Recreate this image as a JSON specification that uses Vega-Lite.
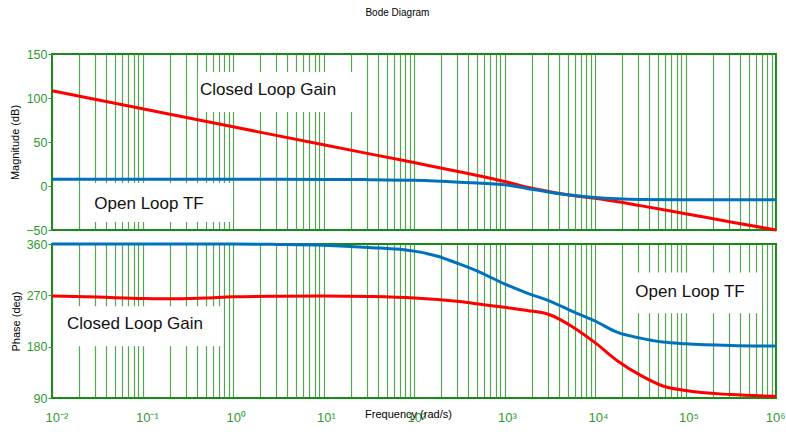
{
  "$schema": "https://vega.github.io/schema/vega-lite/v6.json",
  "padding": {"left": 8, "top": 8, "right": 0, "bottom": 0},
  "background": "white",
  "title": {
    "text": "Bode Diagram",
    "font": "Liberation Sans",
    "fontSize": 10,
    "fontWeight": "normal",
    "color": "#000000",
    "anchor": "middle",
    "offset": 29
  },
  "spacing": -1,
  "config": {
    "view": {"stroke": "#158a15", "strokeWidth": 2},
    "axis": {
      "labelColor": "#2f9a2f",
      "labelFont": "Liberation Sans",
      "labelFontSize": 12.5,
      "tickColor": "#2f9a2f",
      "titleColor": "#000000",
      "titleFont": "Liberation Sans",
      "titleFontSize": 11,
      "titleFontWeight": "normal",
      "domain": false
    }
  },
  "datasets": {
    "mag": [
      {"f": 0.01, "v": 108.3, "series": "Closed Loop Gain"},
      {"f": 0.1, "v": 87.8, "series": "Closed Loop Gain"},
      {"f": 1, "v": 67.3, "series": "Closed Loop Gain"},
      {"f": 10, "v": 46.8, "series": "Closed Loop Gain"},
      {"f": 100, "v": 26.6, "series": "Closed Loop Gain"},
      {"f": 316.23, "v": 16.3, "series": "Closed Loop Gain"},
      {"f": 1000, "v": 5.2, "series": "Closed Loop Gain"},
      {"f": 1778.3, "v": -1.5, "series": "Closed Loop Gain"},
      {"f": 3162.3, "v": -6.5, "series": "Closed Loop Gain"},
      {"f": 5623.4, "v": -10.8, "series": "Closed Loop Gain"},
      {"f": 10000, "v": -14, "series": "Closed Loop Gain"},
      {"f": 31623, "v": -22.3, "series": "Closed Loop Gain"},
      {"f": 100000, "v": -31.5, "series": "Closed Loop Gain"},
      {"f": 316228, "v": -40.8, "series": "Closed Loop Gain"},
      {"f": 1000000, "v": -50, "series": "Closed Loop Gain"},
      {"f": 0.01, "v": 7.6, "series": "Open Loop TF"},
      {"f": 1, "v": 7.6, "series": "Open Loop TF"},
      {"f": 10, "v": 7.5, "series": "Open Loop TF"},
      {"f": 31.623, "v": 7.2, "series": "Open Loop TF"},
      {"f": 100, "v": 6.4, "series": "Open Loop TF"},
      {"f": 316.23, "v": 4.4, "series": "Open Loop TF"},
      {"f": 1000, "v": 1.5, "series": "Open Loop TF"},
      {"f": 1778.3, "v": -2.8, "series": "Open Loop TF"},
      {"f": 3162.3, "v": -7, "series": "Open Loop TF"},
      {"f": 5623.4, "v": -10.5, "series": "Open Loop TF"},
      {"f": 10000, "v": -13, "series": "Open Loop TF"},
      {"f": 17783, "v": -14.5, "series": "Open Loop TF"},
      {"f": 31623, "v": -15.2, "series": "Open Loop TF"},
      {"f": 100000, "v": -15.5, "series": "Open Loop TF"},
      {"f": 1000000, "v": -15.5, "series": "Open Loop TF"}
    ],
    "phase": [
      {"f": 0.01, "v": 269, "series": "Closed Loop Gain"},
      {"f": 0.031623, "v": 267, "series": "Closed Loop Gain"},
      {"f": 0.1, "v": 264.5, "series": "Closed Loop Gain"},
      {"f": 0.19953, "v": 263.8, "series": "Closed Loop Gain"},
      {"f": 0.50119, "v": 265.5, "series": "Closed Loop Gain"},
      {"f": 1, "v": 267.5, "series": "Closed Loop Gain"},
      {"f": 3.1623, "v": 268.5, "series": "Closed Loop Gain"},
      {"f": 10, "v": 268.8, "series": "Closed Loop Gain"},
      {"f": 31.623, "v": 268, "series": "Closed Loop Gain"},
      {"f": 100, "v": 265.5, "series": "Closed Loop Gain"},
      {"f": 316.23, "v": 259, "series": "Closed Loop Gain"},
      {"f": 562.34, "v": 254, "series": "Closed Loop Gain"},
      {"f": 1000, "v": 249, "series": "Closed Loop Gain"},
      {"f": 1778.3, "v": 243.5, "series": "Closed Loop Gain"},
      {"f": 3162.3, "v": 236, "series": "Closed Loop Gain"},
      {"f": 5623.4, "v": 215, "series": "Closed Loop Gain"},
      {"f": 10000, "v": 187, "series": "Closed Loop Gain"},
      {"f": 17783, "v": 155, "series": "Closed Loop Gain"},
      {"f": 31623, "v": 130, "series": "Closed Loop Gain"},
      {"f": 56234, "v": 111, "series": "Closed Loop Gain"},
      {"f": 100000, "v": 103, "series": "Closed Loop Gain"},
      {"f": 316228, "v": 96, "series": "Closed Loop Gain"},
      {"f": 1000000, "v": 93, "series": "Closed Loop Gain"},
      {"f": 0.01, "v": 360, "series": "Open Loop TF"},
      {"f": 1, "v": 359.8, "series": "Open Loop TF"},
      {"f": 3.1623, "v": 359.3, "series": "Open Loop TF"},
      {"f": 10, "v": 358, "series": "Open Loop TF"},
      {"f": 31.623, "v": 354, "series": "Open Loop TF"},
      {"f": 100, "v": 347.5, "series": "Open Loop TF"},
      {"f": 177.83, "v": 339, "series": "Open Loop TF"},
      {"f": 316.23, "v": 325, "series": "Open Loop TF"},
      {"f": 562.34, "v": 309, "series": "Open Loop TF"},
      {"f": 1000, "v": 290, "series": "Open Loop TF"},
      {"f": 1778.3, "v": 274, "series": "Open Loop TF"},
      {"f": 3162.3, "v": 260, "series": "Open Loop TF"},
      {"f": 5623.4, "v": 242, "series": "Open Loop TF"},
      {"f": 10000, "v": 225, "series": "Open Loop TF"},
      {"f": 17783, "v": 205, "series": "Open Loop TF"},
      {"f": 31623, "v": 195, "series": "Open Loop TF"},
      {"f": 56234, "v": 188, "series": "Open Loop TF"},
      {"f": 100000, "v": 185, "series": "Open Loop TF"},
      {"f": 316228, "v": 182, "series": "Open Loop TF"},
      {"f": 1000000, "v": 181, "series": "Open Loop TF"}
    ],
    "notes": [
      {"panel": "mag", "label": "Closed Loop Gain", "f": 2.44, "v": 109, "f1": 0.41, "f2": 22.3, "v1": 84, "v2": 129.5},
      {"panel": "mag", "label": "Open Loop TF", "f": 0.118, "v": -20, "f1": 0.025, "f2": 1.0, "v1": -41, "v2": 3.4},
      {"panel": "phase", "label": "Closed Loop Gain", "f": 0.0826, "v": 219, "f1": 0.0129, "f2": 0.755, "v1": 180.8, "v2": 250.7},
      {"panel": "phase", "label": "Open Loop TF", "f": 112200, "v": 275, "f1": 23174, "f2": 699000, "v1": 238.5, "v2": 310.2}
    ]
  },
  "vconcat": [
    {
      "width": 724,
      "height": 176,
      "encoding": {
        "x": {
          "field": "f",
          "type": "quantitative",
          "scale": {"type": "log", "domain": [0.01, 1000000], "nice": false},
          "axis": {
            "title": null,
            "labels": false,
            "ticks": false,
            "grid": true,
            "gridColor": "#2a8f2a",
            "gridOpacity": 0.8,
            "gridWidth": 1.2,
            "values": [0.01,0.02,0.03,0.04,0.05,0.06,0.07,0.08,0.09,0.1,0.2,0.3,0.4,0.5,0.6,0.7,0.8,0.9,1,2,3,4,5,6,7,8,9,10,20,30,40,50,60,70,80,90,100,200,300,400,500,600,700,800,900,1000,2000,3000,4000,5000,6000,7000,8000,9000,10000,20000,30000,40000,50000,60000,70000,80000,90000,100000,200000,300000,400000,500000,600000,700000,800000,900000,1000000]
          }
        },
        "y": {
          "field": "v",
          "type": "quantitative",
          "scale": {"domain": [-50, 150], "nice": false},
          "axis": {
            "title": "Magnitude (dB)",
            "values": [-50, 0, 50, 100, 150],
            "grid": false,
            "tickSize": 4,
            "labelPadding": 1,
            "titlePadding": 5
          }
        }
      },
      "layer": [
        {
          "data": {"name": "notes"},
          "transform": [{"filter": "datum.panel === 'mag'"}],
          "mark": {"type": "rect", "color": "white"},
          "encoding": {
            "x": {"field": "f1", "type": "quantitative"},
            "x2": {"field": "f2"},
            "y": {"field": "v1", "type": "quantitative"},
            "y2": {"field": "v2"}
          }
        },
        {
          "data": {"name": "mag"},
          "transform": [{"filter": "datum.series === 'Closed Loop Gain'"}],
          "mark": {"type": "line", "color": "#ff0000", "strokeWidth": 3, "interpolate": "monotone"}
        },
        {
          "data": {"name": "mag"},
          "transform": [{"filter": "datum.series === 'Open Loop TF'"}],
          "mark": {"type": "line", "color": "#0072bd", "strokeWidth": 3, "interpolate": "monotone"}
        },
        {
          "data": {"name": "notes"},
          "transform": [{"filter": "datum.panel === 'mag'"}],
          "mark": {"type": "text", "font": "Liberation Sans", "fontSize": 17, "color": "#111111", "baseline": "middle", "align": "center"},
          "encoding": {"text": {"field": "label"}}
        }
      ]
    },
    {
      "width": 724,
      "height": 154,
      "encoding": {
        "x": {
          "field": "f",
          "type": "quantitative",
          "scale": {"type": "log", "domain": [0.01, 1000000], "nice": false},
          "axis": {
            "title": "Frequency (rad/s)",
            "titleFontSize": 11,
            "titleY": 10,
            "titleX": 356,
            "ticks": false,
            "labelPadding": 13,
            "labelFontSize": 13,
            "labelAlign": {"condition": {"test": "datum.value > 500000", "value": "right"}, "value": "left"},
            "labelOffset": {"condition": {"test": "datum.value > 500000", "value": 9}, "value": -7},
            "labelOverlap": false,
            "labelExpr": "abs(log(datum.value)/LN10 - round(log(datum.value)/LN10)) < 0.001 ? '10' + ['⁻²','⁻¹','⁰','¹','²','³','⁴','⁵','⁶'][round(log(datum.value)/LN10) + 2] : ''",
            "grid": true,
            "gridColor": "#2a8f2a",
            "gridOpacity": 0.8,
            "gridWidth": 1.2,
            "values": [0.01,0.02,0.03,0.04,0.05,0.06,0.07,0.08,0.09,0.1,0.2,0.3,0.4,0.5,0.6,0.7,0.8,0.9,1,2,3,4,5,6,7,8,9,10,20,30,40,50,60,70,80,90,100,200,300,400,500,600,700,800,900,1000,2000,3000,4000,5000,6000,7000,8000,9000,10000,20000,30000,40000,50000,60000,70000,80000,90000,100000,200000,300000,400000,500000,600000,700000,800000,900000,1000000]
          }
        },
        "y": {
          "field": "v",
          "type": "quantitative",
          "scale": {"domain": [90, 360], "nice": false},
          "axis": {
            "title": "Phase (deg)",
            "values": [90, 180, 270, 360],
            "grid": false,
            "tickSize": 4,
            "labelPadding": 1,
            "titlePadding": 5
          }
        }
      },
      "layer": [
        {
          "data": {"name": "notes"},
          "transform": [{"filter": "datum.panel === 'phase'"}],
          "mark": {"type": "rect", "color": "white"},
          "encoding": {
            "x": {"field": "f1", "type": "quantitative"},
            "x2": {"field": "f2"},
            "y": {"field": "v1", "type": "quantitative"},
            "y2": {"field": "v2"}
          }
        },
        {
          "data": {"name": "phase"},
          "transform": [{"filter": "datum.series === 'Closed Loop Gain'"}],
          "mark": {"type": "line", "color": "#ff0000", "strokeWidth": 3, "interpolate": "monotone"}
        },
        {
          "data": {"name": "phase"},
          "transform": [{"filter": "datum.series === 'Open Loop TF'"}],
          "mark": {"type": "line", "color": "#0072bd", "strokeWidth": 3, "interpolate": "monotone"}
        },
        {
          "data": {"name": "notes"},
          "transform": [{"filter": "datum.panel === 'phase'"}],
          "mark": {"type": "text", "font": "Liberation Sans", "fontSize": 17, "color": "#111111", "baseline": "middle", "align": "center"},
          "encoding": {"text": {"field": "label"}}
        }
      ]
    }
  ]
}
